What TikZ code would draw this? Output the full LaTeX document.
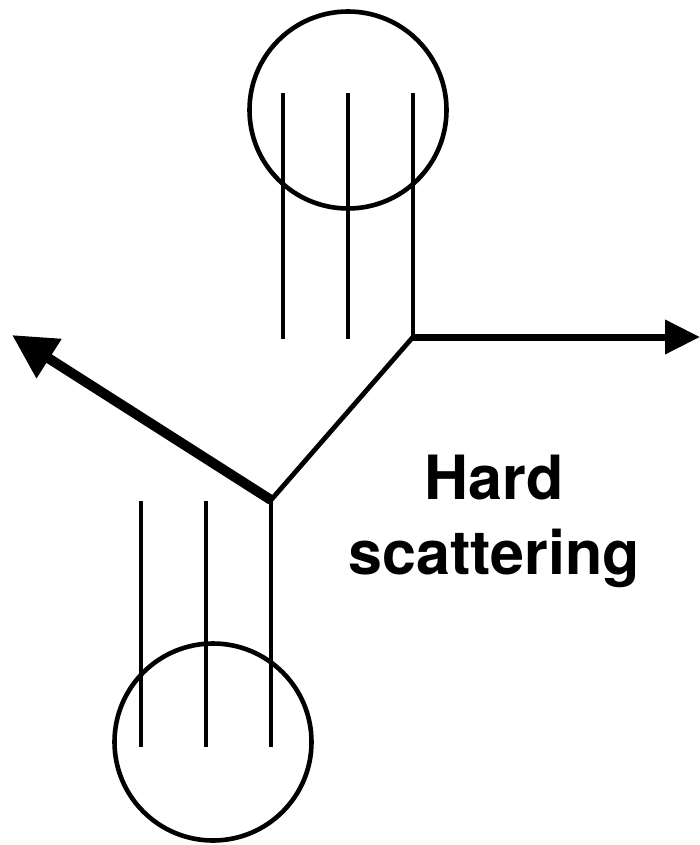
\documentclass[tikz,border=0pt]{standalone}
\usepackage{fontspec}
\setmainfont{TeX Gyre Heros}
\usetikzlibrary{arrows.meta}
\begin{document}
\begin{tikzpicture}[x=1pt,y=-1pt,
  thin line/.style={line width=4.8pt},
  blob/.style={circle,draw,line width=4.6pt,minimum size=197pt,inner sep=0pt},
  out arrow/.style={line width=7pt,-{Triangle[length=35pt,width=33pt]}},
  big arrow/.style={line width=10pt,-{Triangle[length=44pt,width=44pt]}},
  label/.style={font=\fontsize{61}{75}\selectfont\bfseries,align=center,inner sep=0pt}]
\useasboundingbox (0,0) rectangle (700,845);
% upper hadron
\node[blob] (top) at (348,110) {};
\coordinate (t1a) at (283,93); \coordinate (t1b) at (283,339);
\coordinate (t2a) at (348,93); \coordinate (t2b) at (348,339);
\coordinate (t3a) at (413,93); \coordinate (j1) at (413,337);
\draw[thin line] (t1a) -- (t1b);
\draw[thin line] (t2a) -- (t2b);
\draw[thin line] (t3a) -- (j1);
% lower hadron
\node[blob] (bot) at (213,742) {};
\coordinate (b1a) at (141,501); \coordinate (b1b) at (141,747);
\coordinate (b2a) at (206,501); \coordinate (b2b) at (206,747);
\coordinate (j2) at (271,500); \coordinate (b3b) at (271,747);
\draw[thin line] (b1a) -- (b1b);
\draw[thin line] (b2a) -- (b2b);
\draw[thin line] (j2) -- (b3b);
% hard scattering
\draw[thin line,line join=round] (j1) -- (j2);
\coordinate (r) at (700,337);
\coordinate (l) at (12,335);
\draw[out arrow] (j1) -- (r);
\draw[big arrow] (j2) -- (l);
\node[label] (hs) at (494,521) {Hard\\scattering};
\end{tikzpicture}
\end{document}
